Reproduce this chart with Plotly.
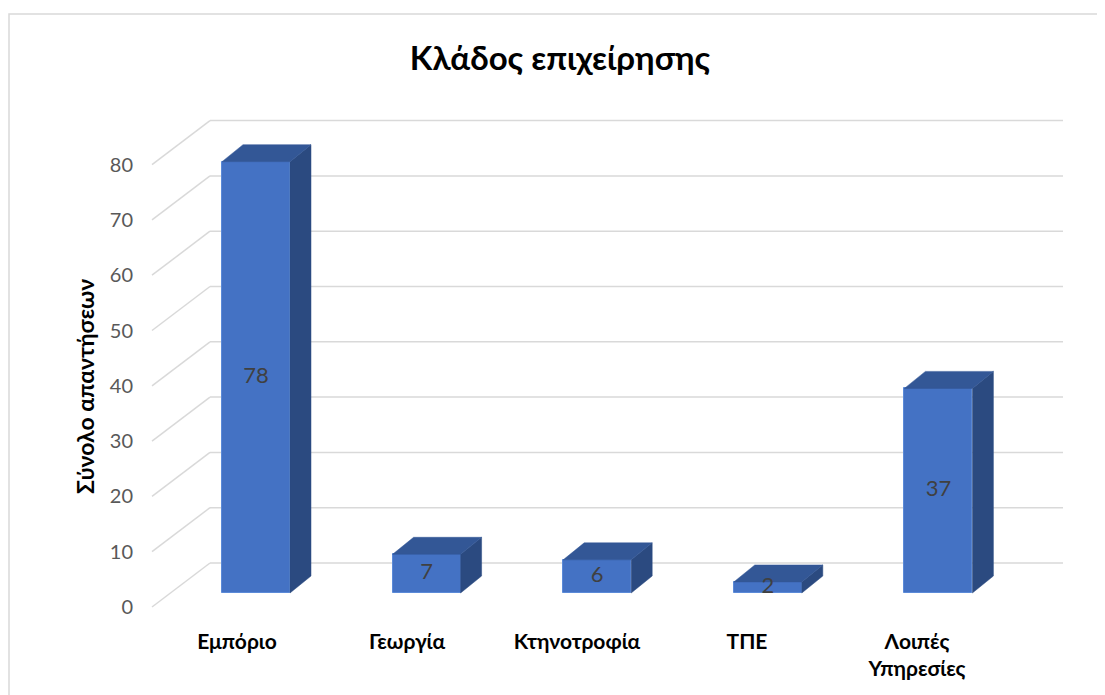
import plotly.graph_objects as go

categories = ["Εμπόριο", "Γεωργία", "Κτηνοτροφία", "ΤΠΕ", "Λοιπές<br>Υπηρεσίες"]
counts = [78, 7, 6, 2, 37]
y_ticks = [0, 10, 20, 30, 40, 50, 60, 70, 80]

FONT = "Lato, 'Noto Sans', sans-serif"

# the page body has an 8px margin, so the figure sits 8px in from the window
OFF = 8
W, H = 1105 - OFF, 695 - OFF
L, R, T, B = 130, 10, 90, 70
PLOT_W = W - L - R
PLOT_H = H - T - B

# window-pixel layout of the fake 3d scene (Excel-like 3D column)
X0_PX, STEP_PX = 256, 170.6        # centre of first bar front, spacing
LABEL_X0, LABEL_STEP = 237, 170    # category labels sit on the floor's front edge
ZERO_PX, K = 593, 5.53             # baseline of bar fronts, px per unit
BAR_W_PX = 68
DEPTH_DX, DEPTH_DY = 21, 17        # bar depth
FLOOR_DY, WALL_DY = 14, 30         # floor front below / back wall above bar fronts
GRID_X_FRONT, GRID_X_BACK, GRID_X_END = 152, 210, 1063
GRID_COLOR = "#d9d9d9"

# plot area edges in window pixels
AREA_L, AREA_R = L + OFF, W - R + OFF
AREA_T, AREA_B = T + OFF, H - B + OFF


def xv(px):
    return (px - X0_PX) / STEP_PX


def yv(py):
    return (ZERO_PX - py) / K


def paper_x(px):
    return (px - AREA_L) / PLOT_W


def paper_y(py):
    return (AREA_B - py) / PLOT_H


idx = list(range(len(categories)))
bw = BAR_W_PX / STEP_PX
dx = DEPTH_DX / STEP_PX
dy = DEPTH_DY / K

fig = go.Figure()

# front faces
fig.add_trace(go.Bar(
    x=idx, y=counts, width=bw,
    marker=dict(color="#4472C4", line=dict(color="#5B8AD8", width=1)),
    showlegend=False, hoverinfo="skip",
))

# side and top faces
side_x, side_y, top_x, top_y = [], [], [], []
for i, v in zip(idx, counts):
    xl, xr = i - bw / 2, i + bw / 2
    side_x += [xr, xr, xr + dx, xr + dx, xr, None]
    side_y += [0, v, v + dy, dy, 0, None]
    top_x += [xl, xr, xr + dx, xl + dx, xl, None]
    top_y += [v, v, v + dy, v + dy, v, None]

fig.add_trace(go.Scatter(
    x=side_x, y=side_y, mode="lines", fill="toself",
    fillcolor="#2B4A80", line=dict(color="#2B4A80", width=0.5),
    showlegend=False, hoverinfo="skip",
))
fig.add_trace(go.Scatter(
    x=top_x, y=top_y, mode="lines", fill="toself",
    fillcolor="#335796", line=dict(color="#335796", width=0.5),
    showlegend=False, hoverinfo="skip",
))

# data labels
fig.add_trace(go.Scatter(
    x=idx, y=[v / 2 for v in counts], mode="text",
    text=[str(v) for v in counts],
    textfont=dict(family=FONT, size=22, color="#404040"),
    showlegend=False, hoverinfo="skip",
))

# dummies so the overlay axes render
fig.add_trace(go.Scatter(x=[None], y=[None], xaxis="x", yaxis="y2",
                         showlegend=False, hoverinfo="skip"))
fig.add_trace(go.Scatter(x=[None], y=[None], xaxis="x3", yaxis="y",
                         showlegend=False, hoverinfo="skip"))

# gridlines: floor diagonal + back wall
shapes = []
for t in y_ticks:
    yf = t - FLOOR_DY / K
    yb = t + WALL_DY / K
    shapes.append(dict(type="line", xref="x", yref="y", layer="below",
                       x0=xv(GRID_X_FRONT), y0=yf, x1=xv(GRID_X_BACK), y1=yb,
                       line=dict(color=GRID_COLOR, width=1.5)))
    shapes.append(dict(type="line", xref="x", yref="y", layer="below",
                       x0=xv(GRID_X_BACK), y0=yb, x1=xv(GRID_X_END), y1=yb,
                       line=dict(color=GRID_COLOR, width=1.5)))

# chart border
shapes.append(dict(type="rect", xref="paper", yref="paper",
                   x0=paper_x(OFF + 1), x1=paper_x(1112), y0=paper_y(702), y1=paper_y(14),
                   line=dict(color="#d9d9d9", width=1.5)))

tick_origin = ZERO_PX + FLOOR_DY

fig.update_layout(
    width=W, height=H,
    margin=dict(l=L, r=R, t=T, b=B),
    plot_bgcolor="white", paper_bgcolor="white",
    font=dict(family=FONT),
    bargap=0,
    shapes=shapes,
    title=dict(text="Κλάδος επιχείρησης", x=(560 - OFF) / W, xanchor="center",
               y=1 - (58 - OFF) / H, yanchor="middle",
               font=dict(family=FONT, size=33, color="black", weight="bold")),
    xaxis=dict(range=[xv(AREA_L), xv(AREA_R)], visible=False, fixedrange=True),
    yaxis=dict(range=[yv(AREA_B), yv(AREA_T)], visible=False, fixedrange=True),
    yaxis2=dict(overlaying="y", anchor="x", side="left",
                range=[(tick_origin - AREA_B) / K, (tick_origin - AREA_T) / K],
                tickvals=y_ticks, ticks="", showgrid=False, zeroline=False,
                showline=False, ticklabelstandoff=4,
                tickfont=dict(family=FONT, size=20, color="#595959")),
    xaxis3=dict(overlaying="x", anchor="y", side="bottom",
                range=[(AREA_L - LABEL_X0) / LABEL_STEP, (AREA_R - LABEL_X0) / LABEL_STEP],
                tickvals=idx, ticktext=categories, ticks="", showgrid=False,
                zeroline=False, showline=False, ticklabelstandoff=2,
                tickfont=dict(family=FONT, size=21, color="black", weight="bold")),
    annotations=[dict(text="Σύνολο απαντήσεων", xref="paper", yref="paper",
                      x=paper_x(85), y=paper_y(387), textangle=-90,
                      showarrow=False, xanchor="center", yanchor="middle",
                      font=dict(family=FONT, size=23, color="black", weight="bold"))],
)

fig.write_html("out.html")
